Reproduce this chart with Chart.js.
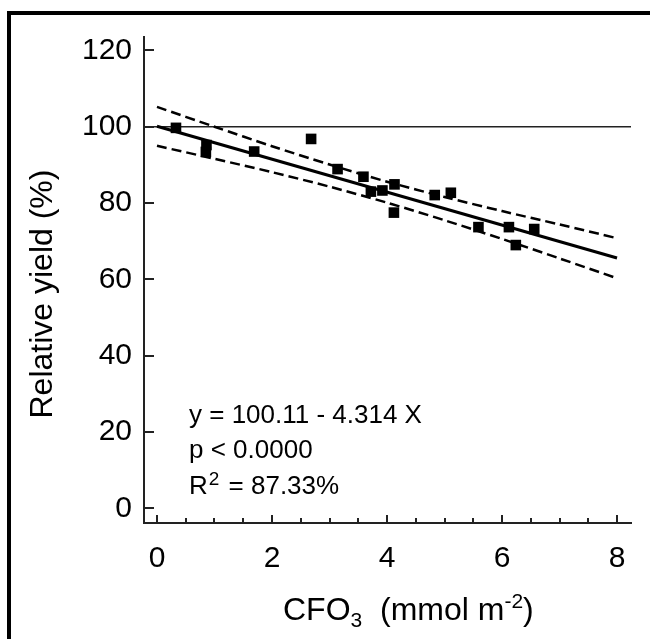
<!DOCTYPE html>
<html>
<head>
<meta charset="utf-8">
<script src="https://cdn.jsdelivr.net/npm/chart.js@4.4.0/dist/chart.umd.min.js"></script>
<style>
  html, body { margin: 0; padding: 0; background: #fff; }
</style>
</head>
<body>
<canvas id="myChart" width="650" height="639"></canvas>
<script>
// observed points
var obsX = [0.33, 0.86, 0.85, 1.69, 2.68, 3.14, 3.59, 3.72, 3.92, 4.13, 4.12, 4.83, 5.11, 5.59, 6.12, 6.24, 6.56];
var obsY = [99.7, 95.2, 93.4, 93.5, 96.8, 88.9, 86.9, 83.0, 83.3, 84.9, 77.5, 82.1, 82.7, 73.7, 73.7, 69.0, 73.2];
// fitted line and confidence band
var fitX = [0, 8];
var fitY = [100.11, 65.60];
var bandX = [0, 1, 2, 3, 4, 5, 6, 7, 8];
var upperY = [105.2, 100.0, 94.9, 90.1, 85.6, 81.6, 77.9, 74.4, 70.8];
var lowerY = [95.0, 91.6, 88.1, 84.3, 80.1, 75.5, 70.6, 65.5, 60.3];
var refY = 100;
// axes
var xMin = -0.226, xMax = 8.243;
var yMin = -3.8, yMax = 123.5;
var xTicks = [0, 2, 4, 6, 8];
var xMinorTicks = [0.5, 1, 1.5, 2.5, 3, 3.5, 4.5, 5, 5.5, 6.5, 7, 7.5];
var yTicks = [0, 20, 40, 60, 80, 100, 120];
var statLines = ['y = 100.11 - 4.314 X', 'p < 0.0000'];

var FONT = '"Liberation Sans", Arial, Helvetica, sans-serif';

function pts(xs, ys) {
    return xs.map(function(x, i) { return {x: x, y: ys[i]}; });
}

// draw a line of text made of runs with own size and vertical shift
function drawRuns(ctx, x, y, runs) {
    runs.forEach(function(r) {
        ctx.font = r.size + 'px ' + FONT;
        ctx.fillText(r.t, x, y + (r.dy || 0));
        x += ctx.measureText(r.t).width + (r.gap || 0);
    });
}

var decor = {
    id: 'decor',
    afterDraw: function(chart) {
        var ctx = chart.ctx;
        var xs = chart.scales.x, ys = chart.scales.y;
        var bottom = chart.chartArea.bottom, left = chart.chartArea.left;
        ctx.save();
        ctx.strokeStyle = '#222';
        ctx.lineWidth = 2;
        ctx.beginPath();
        xTicks.forEach(function(v) {
            var px = Math.round(xs.getPixelForValue(v));
            ctx.moveTo(px, bottom); ctx.lineTo(px, bottom - 8);
        });
        xMinorTicks.forEach(function(v) {
            var px = Math.round(xs.getPixelForValue(v));
            ctx.moveTo(px, bottom); ctx.lineTo(px, bottom - 5);
        });
        yTicks.forEach(function(v) {
            var py = Math.round(ys.getPixelForValue(v));
            ctx.moveTo(left, py); ctx.lineTo(left + 10, py);
        });
        ctx.stroke();

        ctx.fillStyle = '#000';
        ctx.textBaseline = 'alphabetic';
        ctx.textAlign = 'left';
        // stats text
        ctx.font = '26px ' + FONT;
        ctx.fillText(statLines[0], 189, 423);
        ctx.fillText(statLines[1], 189, 458);
        drawRuns(ctx, 189, 494, [
            {t: 'R', size: 26, gap: 1}, {t: '2', size: 19, dy: -9, gap: 2}, {t: ' = 87.33%', size: 26}
        ]);
        // x title
        drawRuns(ctx, 283, 620, [
            {t: 'CFO', size: 32}, {t: '3', size: 21, dy: 7},
            {t: '  (mmol m', size: 32}, {t: '-2', size: 21, dy: -12}, {t: ')', size: 32}
        ]);
        // y title
        ctx.translate(52, 294);
        ctx.rotate(-Math.PI / 2);
        ctx.textAlign = 'center';
        ctx.font = '32px ' + FONT;
        ctx.fillText('Relative yield (%)', 0, 0);
        ctx.restore();

        // frame
        ctx.save();
        ctx.fillStyle = '#000';
        ctx.fillRect(7, 11, 643, 4);
        ctx.fillRect(7, 11, 4, 628);
        ctx.restore();
    }
};

const ctx = document.getElementById('myChart');
chart = new Chart(ctx, {
    type: 'scatter',
    data: {
        datasets: [{
            data: pts(obsX, obsY),
            pointStyle: 'rect',
            pointRadius: 7.5,
            pointBorderWidth: 0,
            backgroundColor: '#000',
            borderColor: '#000'
        }, {
            data: pts(fitX, fitY),
            showLine: true,
            borderColor: '#000',
            borderWidth: 3,
            pointRadius: 0
        }, {
            data: pts(bandX, upperY),
            showLine: true,
            borderColor: '#000',
            borderWidth: 2.5,
            borderDash: [10, 5],
            tension: 0.3,
            pointRadius: 0
        }, {
            data: pts(bandX, lowerY),
            showLine: true,
            borderColor: '#000',
            borderWidth: 2.5,
            borderDash: [10, 5],
            tension: 0.3,
            pointRadius: 0
        }, {
            data: pts([xMin, xMax], [refY, refY]),
            showLine: true,
            borderColor: '#222',
            borderWidth: 1.5,
            pointRadius: 0
        }]
    },
    options: {
        responsive: false,
        animation: false,
        devicePixelRatio: 1,
        layout: {
            padding: { top: 37, right: 19, left: 0, bottom: 0 }
        },
        plugins: {
            legend: { display: false },
            tooltip: { enabled: false }
        },
        scales: {
            x: {
                type: 'linear',
                min: xMin,
                max: xMax,
                afterBuildTicks: function(s) { s.ticks = xTicks.map(function(v) { return {value: v}; }); },
                afterFit: function(s) { s.height = 116; },
                grid: { drawOnChartArea: false, drawTicks: false },
                border: { color: '#222', width: 2 },
                ticks: { color: '#000', padding: 18, maxRotation: 0, font: { family: FONT, size: 30 } }
            },
            y: {
                type: 'linear',
                min: yMin,
                max: yMax,
                afterBuildTicks: function(s) { s.ticks = yTicks.map(function(v) { return {value: v}; }); },
                afterFit: function(s) { s.width = 144; },
                grid: { drawOnChartArea: false, drawTicks: false },
                border: { color: '#222', width: 2 },
                ticks: { color: '#000', padding: 12, font: { family: FONT, size: 30 } }
            }
        }
    },
    plugins: [decor]
});
</script>
</body>
</html>
